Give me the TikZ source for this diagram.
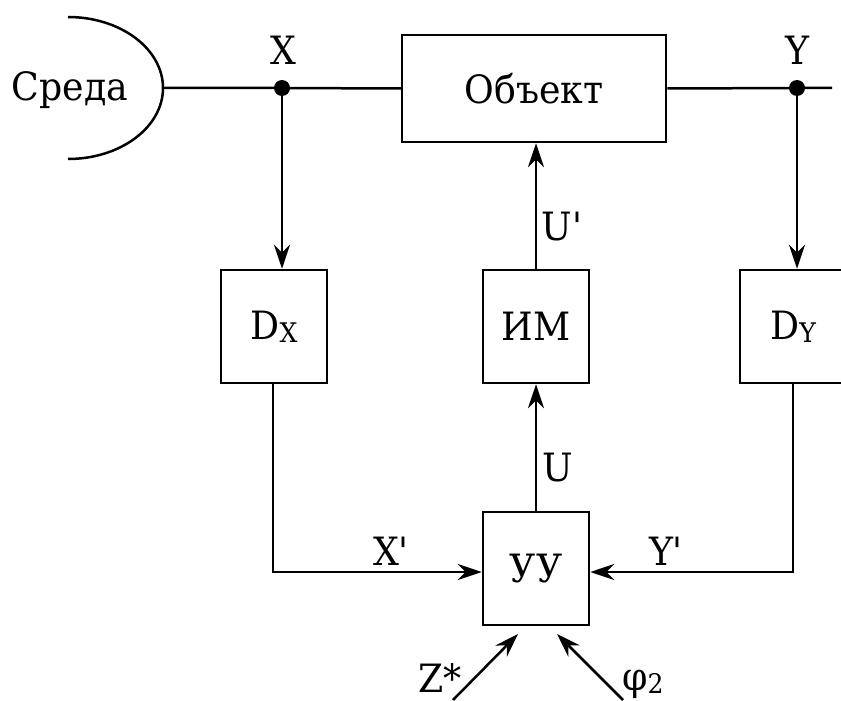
\documentclass[tikz,border=0pt]{standalone}
\usepackage{fontspec}
\setmainfont{DejaVu Serif}[FakeStretch=0.93]
\newfontfamily\timesfont{DejaVu Serif}[FakeStretch=0.93]
\usetikzlibrary{arrows.meta}
\newcommand{\subtxt}[1]{\raisebox{-3pt}{\fontsize{27}{28}\selectfont #1}}
\begin{document}
\begin{tikzpicture}[x=1pt,y=-1pt,
  line width=2.5pt,
  every node/.style={font=\timesfont\fontsize{39}{44}\selectfont, inner sep=0pt},
  blk/.style={draw, rectangle, minimum width=106pt, minimum height=113pt},
  arr/.style={-{Stealth[length=24pt,width=16pt,inset=8pt]}},
  dotc/.style={circle, fill, minimum size=16pt}]
\useasboundingbox (0,0) rectangle (841,701);
\clip (0,0) rectangle (841,701);
% Environment
\draw (68,17) arc[start angle=-90, end angle=90, x radius=95, y radius=71];
\coordinate (env) at (163,88);
\node[anchor=base] (sreda) at (70,100) {Среда};
% Blocks
\node[draw, rectangle, minimum width=264pt, minimum height=107pt] (obj) at (534,88.5) {Объект};
\node[blk] (dx) at (274,326.5) {D\subtxt{X}};
\node[blk] (im) at (536,326.5) {ИМ};
\node[blk] (dy) at (793,326.5) {D\subtxt{Y}};
\node[blk] (uu) at (536,568.5) {УУ};
% Junction dots
\node[dotc] (xd) at (282,88) {};
\node[dotc] (yd) at (797,88) {};
\coordinate (yend) at (832,88);
% Labels
\node[anchor=base] (lx) at (283,65) {X};
\node[anchor=base] (ly) at (797,65) {Y};
\node[anchor=base] (lup) at (562,240) {U'};
\node[anchor=base] (lu) at (558,481) {U};
\node[anchor=base] (lxp) at (391,565) {X'};
\node[anchor=base] (lyp) at (666,565) {Y'};
\node[anchor=base] (lz) at (440,692) {Z*};
\node[anchor=base] (lphi) at (643,690) {φ\subtxt{2}};
% Main line
\draw (env) -- (xd.center) -- (obj.west);
\draw (obj.east) -- (yd.center) -- (yend);
% Measurements
\draw[arr] (xd.center) -- (xd.center |- dx.north);
\draw[arr] (yd.center) -- (yd.center |- dy.north);
% Control path
\draw[arr] (im.north) -- (im.north |- obj.south);
\draw[arr] (uu.north) -- (uu.north |- im.south);
\coordinate (cx) at (273,572);
\coordinate (cy) at (793,572);
\draw[arr] (dx.south -| cx) -- (cx) -- (cx -| uu.west);
\draw[arr] (dy.south -| cy) -- (cy) -- (cy -| uu.east);
% Setpoint and disturbance
\coordinate (z0) at (453,700);
\coordinate (z1) at (518,634);
\coordinate (p0) at (623,700);
\coordinate (p1) at (557,634);
\draw[arr] (z0) -- (z1);
\draw[arr] (p0) -- (p1);
\end{tikzpicture}
\end{document}
